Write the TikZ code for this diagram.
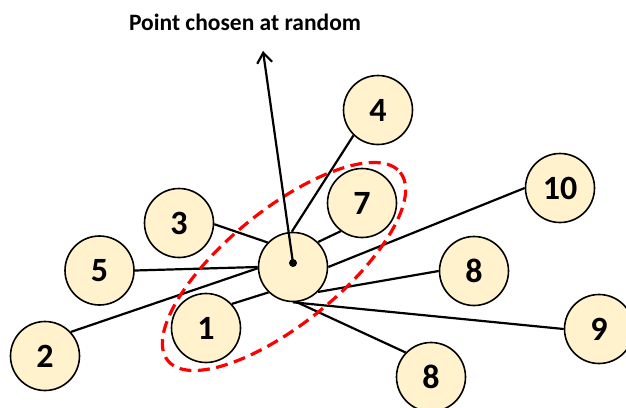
\documentclass[tikz,border=0pt]{standalone}
\usepackage{fontspec}
\setmainfont{Carlito}
\usetikzlibrary{arrows.meta}
\definecolor{cream}{HTML}{FFF2CC}
\definecolor{ringred}{HTML}{FF0000}
\begin{document}
\begin{tikzpicture}[x=1pt, y=-1pt,
  ball/.style={circle, draw=black, line width=1.6pt, fill=cream,
    minimum size=69pt, inner sep=0pt,
    font=\fontsize{34}{34}\selectfont\bfseries},
  link/.style={line width=2.2pt, draw=black},
  ring/.style={draw=ringred, line width=3.2pt, dash pattern=on 12pt off 6.5pt},
  pointer/.style={line width=2.2pt, draw=black,
    -{Straight Barb[length=10pt, width=15pt, line width=2.2pt]}},
  caption/.style={font=\fontsize{23.5}{24}\selectfont\bfseries, text=black},
]
\useasboundingbox (0,0) rectangle (626,407);
\clip (0,0) rectangle (626,407);

% the centre node and its neighbours
\node[ball] (c) at (293,267) {};
\node[ball] (n3) at (179,223) {3};
\node[ball] (n4) at (378,110) {4};
\node[ball] (n7) at (362,203) {7};
\node[ball] (n5) at (99.5,270.5) {5};
\node[ball] (n2) at (45,356) {2};
\node[ball] (n1) at (206,328) {1};
\node[ball] (n10) at (560,188) {10};
\node[ball] (n8a) at (474,271) {8};
\node[ball] (n9) at (599,329) {9};
\node[ball] (n8b) at (431,377) {8};

% edges
\draw[link] (c.180) -- (n5.0);
\draw[link] (c.182) -- (n2.43);
\draw[link] (c.136) -- (n3.-2);
\draw[link] (c.92) -- (n4.226);
\draw[link] (c.45) -- (n7.233);
\draw[link] (c.226) -- (n1.43);
\draw[link] (c.0) -- (n10.180);
\draw[link] (c.315) -- (n8a.180);
\draw[link] (c.270) -- (n9.180);
\draw[link] (c.276) -- (n8b.136);

% dashed neighbourhood
\draw[ring, rotate around={39:(284,266.5)}] (284,266.5) ellipse [x radius=149.5, y radius=57];

% sampled point and its label
\node[circle, fill=black, inner sep=0pt, minimum size=8pt] (pt) at (293,263) {};
\coordinate (tip) at (263,51);
\draw[pointer] (pt.center) -- (tip);
\node[caption] (title) at (245,22) {Point chosen at random};
\end{tikzpicture}
\end{document}
